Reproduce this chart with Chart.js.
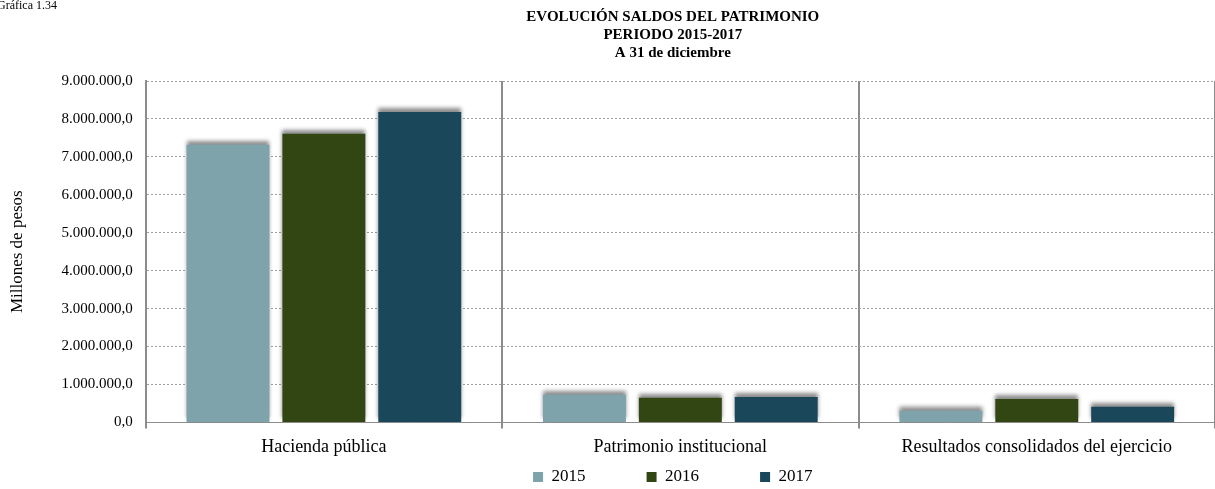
<!DOCTYPE html>
<html>
<head>
<meta charset="utf-8">
<script src="https://cdn.jsdelivr.net/npm/chart.js@4"></script>
<style>
  body { margin: 0; background: #fff; }
</style>
</head>
<body>
<canvas id="grafica" width="1215" height="489"></canvas>
<script>
// Datos de la gráfica (millones de pesos)
const categorias = ["Hacienda pública", "Patrimonio institucional", "Resultados consolidados del ejercicio"];
const anios = ["2015", "2016", "2017"];
const saldos2015 = [7320000, 730000, 310000];
const saldos2016 = [7610000, 650000, 620000];
const saldos2017 = [8180000, 670000, 410000];
const colores = ["#7fa3ab", "#314613", "#1b475a"];

const fuente = "'Liberation Serif', 'Times New Roman', serif";
const separacionLeyenda = 61;

function formatoPesos(v) {
    const entero = Math.round(v).toString().replace(/\B(?=(\d{3})+(?!\d))/g, ".");
    return entero + ",0";
}

// Sombra gris sobre las barras
const sombraBarras = {
    id: "sombraBarras",
    beforeDatasetsDraw(chart) {
        const ctx = chart.ctx;
        ctx.save();
        ctx.shadowColor = "rgba(0,0,0,0.45)";
        ctx.shadowBlur = 4;
        ctx.shadowOffsetY = -4;
    },
    afterDatasetsDraw(chart) {
        chart.ctx.restore();
    }
};

// Centrar título y leyenda como en el original + rótulo "Gráfica 1.34"
const ajustes = {
    id: "ajustes",
    afterLayout(chart) {
        const a = chart.chartArea;
        [chart.titleBlock, chart.legend].forEach(b => {
            if (b) { b.left = a.left - 15; b.right = a.right; }
        });
        // la leyenda usa un padding grande para separar los elementos
        if (chart.legend) chart.legend.top = 477 - 8.5 - separacionLeyenda;
    },
    afterDraw(chart) {
        const ctx = chart.ctx;
        ctx.save();
        ctx.font = "12px " + fuente;
        ctx.fillStyle = "#000";
        ctx.textBaseline = "middle";
        ctx.fillText("Gráfica 1.34", -3, 6);
        ctx.restore();
    }
};

const ctx = document.getElementById("grafica").getContext("2d");
new Chart(ctx, {
    type: "bar",
    data: {
        labels: categorias,
        datasets: [
            { label: anios[0], data: saldos2015, backgroundColor: colores[0] },
            { label: anios[1], data: saldos2016, backgroundColor: colores[1] },
            { label: anios[2], data: saldos2017, backgroundColor: colores[2] }
        ]
    },
    options: {
        responsive: false,
        animation: false,
        layout: { padding: { left: 3, right: 0, top: 0, bottom: 1 } },
        datasets: { bar: { barPercentage: 0.865, categoryPercentage: 0.807 } },
        plugins: {
            title: {
                display: true,
                text: ["EVOLUCIÓN SALDOS DEL PATRIMONIO", "PERIODO 2015-2017", "A 31 de diciembre"],
                color: "#000",
                font: { family: fuente, size: 15, weight: "bold", lineHeight: 1.2 },
                padding: { top: 8, bottom: 19 }
            },
            legend: {
                position: "bottom",
                maxHeight: 22,
                labels: {
                    color: "#000",
                    font: { family: fuente, size: 17 },
                    boxWidth: 10,
                    boxHeight: 10,
                    padding: separacionLeyenda
                }
            },
            tooltip: { enabled: false }
        },
        scales: {
            x: {
                offset: true,
                grid: {
                    offset: true,
                    color: "#8c8c8c",
                    lineWidth: 2,
                    tickLength: 6
                },
                border: { color: "#8c8c8c", width: 1 },
                ticks: {
                    color: "#000",
                    font: { family: fuente, size: 18 },
                    padding: 8
                }
            },
            y: {
                min: 0,
                max: 9000000,
                ticks: {
                    stepSize: 1000000,
                    color: "#000",
                    font: { family: fuente, size: 15 },
                    padding: 13,
                    callback: v => formatoPesos(v)
                },
                grid: {
                    color: "#a0a0a0",
                    lineWidth: 1,
                    drawTicks: false
                },
                border: { color: "#8c8c8c", width: 2, dash: [2, 2] },
                title: {
                    display: true,
                    text: "Millones de pesos",
                    color: "#000",
                    font: { family: fuente, size: 17 },
                    padding: { top: 4, bottom: 21 }
                }
            }
        }
    },
    plugins: [sombraBarras, ajustes]
});
</script>
</body>
</html>
